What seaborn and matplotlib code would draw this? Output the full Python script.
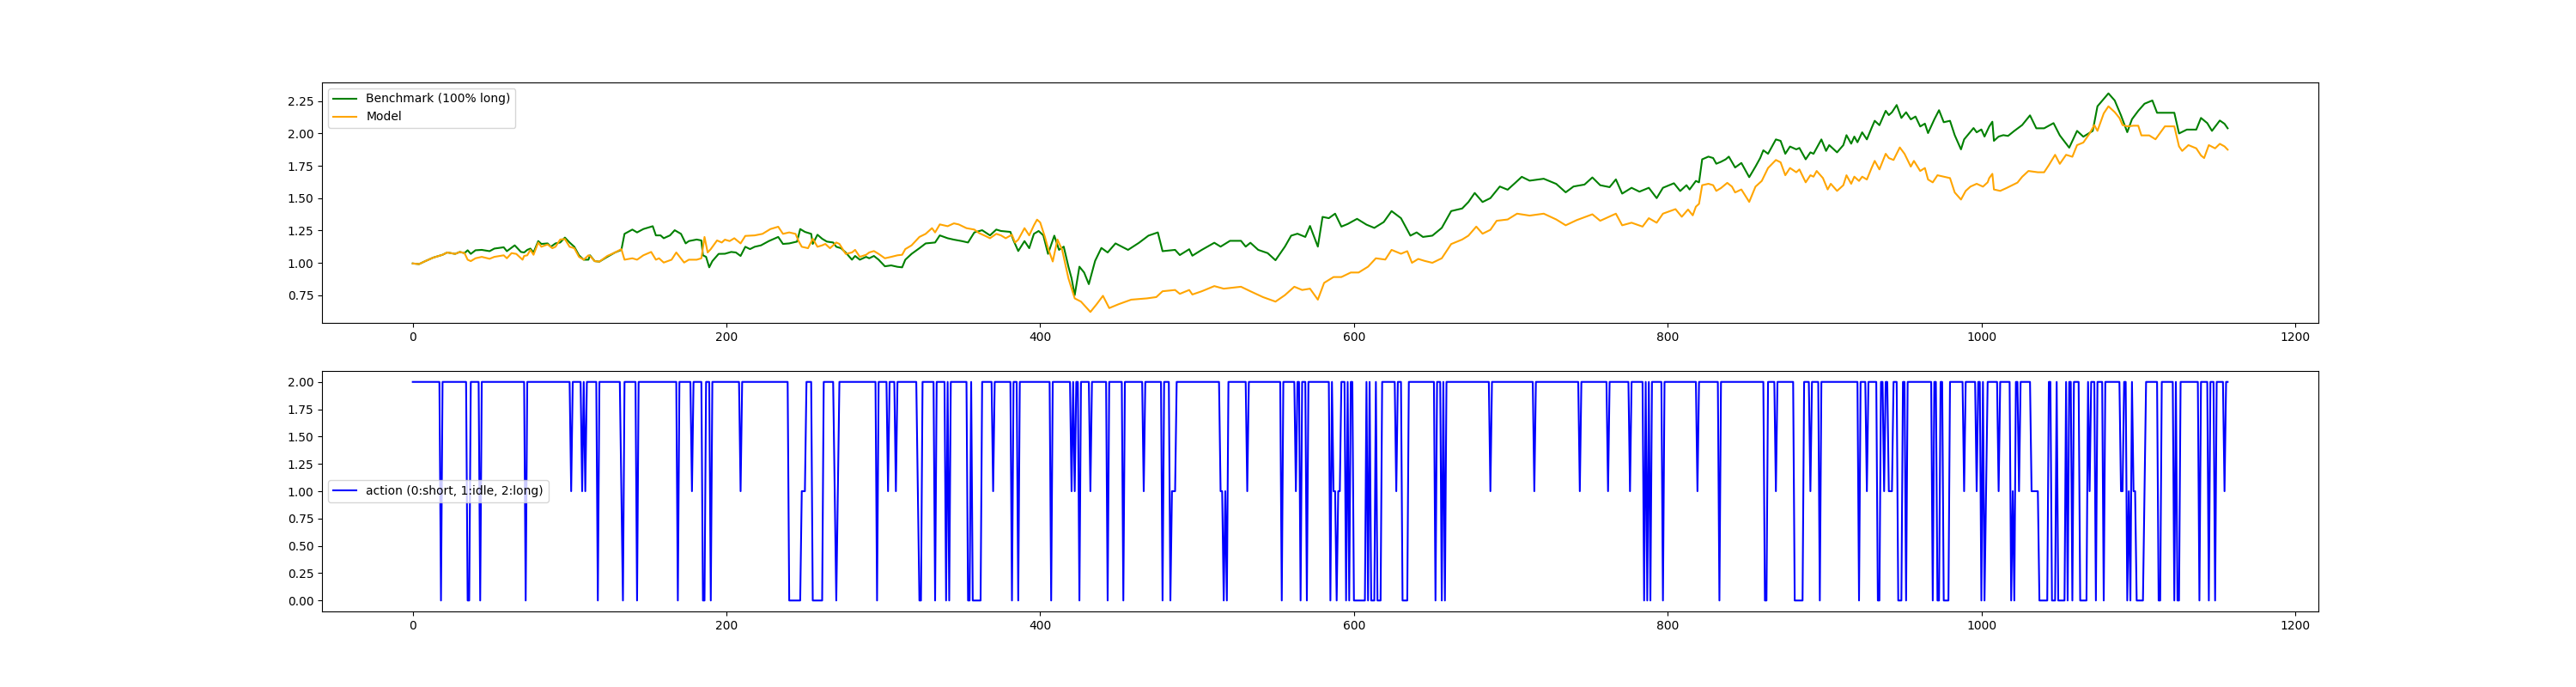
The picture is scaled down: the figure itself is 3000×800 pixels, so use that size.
import numpy as np
import pandas as pd
import matplotlib
matplotlib.use("Agg")
import matplotlib.pyplot as plt
import seaborn as sns

# ---------------- data ----------------
N_STEPS = 1158

bench_t = [0, 4, 8, 13, 19, 22, 27, 30, 33, 35,
           37, 40, 44, 49, 52, 58, 60, 65, 69, 71,
           73, 75, 77, 80, 82, 86, 88, 91, 94, 97,
           100, 103, 106, 109, 112, 113, 116, 119, 124, 129,
           133, 135, 140, 143, 147, 153, 155, 158, 160, 164,
           167, 171, 174, 176, 181, 184, 185, 187, 189, 191,
           195, 199, 203, 206, 209, 212, 215, 218, 222, 227,
           233, 236, 240, 245, 247, 250, 254, 255, 258, 261,
           264, 268, 270, 273, 276, 280, 282, 285, 289, 291,
           294, 297, 301, 305, 309, 312, 314, 318, 323, 327,
           333, 336, 341, 345, 350, 354, 358, 363, 368, 372,
           375, 381, 383, 386, 390, 393, 396, 399, 402, 405,
           409, 412, 415, 418, 420, 422, 425, 428, 431, 435,
           439, 443, 448, 456, 463, 469, 475, 478, 486, 489,
           495, 497, 503, 511, 515, 521, 528, 531, 534, 539,
           545, 550, 556, 560, 564, 569, 572, 577, 580, 584,
           588, 592, 596, 602, 608, 613, 619, 624, 630, 636,
           640, 644, 650, 656, 662, 669, 673, 677, 682, 687,
           693, 698, 703, 707, 712, 721, 729, 735, 740, 747,
           752, 757, 763, 767, 771, 777, 782, 788, 793, 797,
           804, 808,
           812, 814, 818, 820, 822, 826, 829, 831, 834, 837,
           839, 843, 847, 852, 856, 859, 861, 864, 869, 872,
           875, 878, 882, 884, 888, 891, 893, 895, 898, 901,
           903, 908, 912, 914, 917, 919, 921, 924, 927, 930,
           932, 935, 939, 941, 943, 946, 949, 952, 955, 958,
           961, 964, 966, 970, 973, 976, 980, 983, 987, 989,
           992, 995, 997, 1000, 1002, 1005, 1007, 1008, 1011, 1014,
           1017,
           1021, 1026, 1031, 1035, 1040, 1046, 1050, 1056, 1061, 1065,
           1071, 1074, 1081, 1085, 1089, 1093, 1096, 1100, 1104, 1109,
           1112, 1117, 1123, 1126, 1131, 1137, 1140, 1144, 1147, 1152,
           1155, 1157]
bench_v = [0.995, 0.99, 1.013, 1.04, 1.062, 1.08, 1.069, 1.084, 1.075, 1.097,
           1.069, 1.097, 1.10, 1.09, 1.11, 1.12, 1.09, 1.135, 1.084, 1.08,
           1.10, 1.11, 1.08, 1.168, 1.146, 1.15, 1.124, 1.15, 1.157, 1.195,
           1.157, 1.124, 1.058, 1.024, 1.024, 1.058, 1.013, 1.009, 1.046, 1.08,
           1.10, 1.224, 1.257, 1.235, 1.261, 1.283, 1.212, 1.212, 1.19, 1.212,
           1.252, 1.224, 1.15, 1.168, 1.18, 1.173, 1.058, 1.046, 0.965, 1.013,
           1.069, 1.07, 1.084, 1.08, 1.053, 1.124, 1.106, 1.124, 1.135, 1.168,
           1.20, 1.146, 1.15, 1.164, 1.261, 1.239, 1.224, 1.146, 1.217, 1.186,
           1.164, 1.157, 1.124, 1.113, 1.08, 1.024, 1.053, 1.024, 1.046, 1.035,
           1.053, 1.024, 0.973, 0.98, 0.969, 0.965, 1.024, 1.069, 1.113, 1.15,
           1.157, 1.212, 1.19, 1.179, 1.168, 1.157, 1.235, 1.252, 1.212, 1.257,
           1.246, 1.239, 1.173, 1.091, 1.168, 1.113, 1.224, 1.246, 1.212, 1.069,
           1.21, 1.10, 1.125, 0.97, 0.88, 0.75, 0.97, 0.925, 0.835, 1.015,
           1.115, 1.08, 1.15, 1.10, 1.155, 1.21, 1.235, 1.09, 1.10, 1.06,
           1.105, 1.055, 1.10, 1.155, 1.125, 1.17, 1.17, 1.125, 1.155, 1.10,
           1.075, 1.02, 1.125, 1.21, 1.225, 1.20, 1.285, 1.125, 1.355, 1.345,
           1.38, 1.28, 1.30, 1.34, 1.295, 1.27, 1.315, 1.40, 1.345, 1.21,
           1.235, 1.20, 1.21, 1.27, 1.40, 1.42, 1.47, 1.54, 1.47, 1.50,
           1.59, 1.565, 1.62, 1.665, 1.635, 1.65, 1.61, 1.545, 1.59, 1.605,
           1.66, 1.60, 1.585, 1.645, 1.535, 1.58, 1.55, 1.58, 1.50, 1.58,
           1.615, 1.555,
           1.60, 1.567, 1.633, 1.622, 1.80, 1.821, 1.81, 1.766, 1.781, 1.80,
           1.821, 1.737, 1.772, 1.662, 1.744, 1.81, 1.87, 1.843, 1.954, 1.943,
           1.843, 1.899, 1.877, 1.888, 1.80, 1.854, 1.843, 1.888, 1.954, 1.865,
           1.91, 1.854, 1.91, 1.987, 1.921, 1.976, 1.932, 2.009, 1.954, 2.042,
           2.098, 2.064, 2.175, 2.142, 2.164, 2.22, 2.12, 2.164, 2.109, 2.131,
           2.054, 2.076, 2.003, 2.109, 2.18, 2.087, 2.098, 1.987, 1.877, 1.954,
           1.998, 2.042, 2.009, 2.031, 1.976, 2.054, 2.091, 1.943, 1.976, 1.987,
           1.981,
           2.02, 2.065, 2.14, 2.04, 2.04, 2.08, 1.985, 1.89, 2.02, 1.975,
           2.02, 2.21, 2.31, 2.255, 2.14, 2.01, 2.11, 2.175, 2.23, 2.255,
           2.16, 2.16, 2.16, 2.00, 2.03, 2.03, 2.12, 2.08, 2.02, 2.10,
           2.075, 2.04]

model_t = [0, 4, 8, 13, 19, 22, 27, 30, 33, 35,
           37, 40, 44, 49, 52, 58, 60, 63, 66, 70,
           71, 73, 75, 77, 80, 82, 86, 89, 91, 94,
           97, 100, 103, 106, 109, 112, 113, 116, 119, 124,
           129, 133, 135, 140, 143, 147, 152, 155, 157, 160,
           165, 168, 173, 176, 181, 184, 186, 188, 190, 194,
           197, 199, 202, 205, 209, 212, 218, 223, 228, 233,
           236, 240, 244, 246, 248, 252, 255, 258, 261, 263,
           266, 270, 272, 276, 280, 282, 285, 289, 291, 294,
           297, 301, 305, 309, 312, 314, 318, 323, 327, 331,
           333, 336, 341, 345, 348, 353, 358, 361, 365, 368,
           372, 375, 378, 382, 384, 386, 390, 393, 396, 398,
           400, 403, 405,
           408, 411, 414, 416, 418, 422, 426, 432, 436, 440,
           444, 450, 458, 468, 474, 478, 486, 489, 495, 497,
           503, 511, 517, 528, 534, 542, 550, 556, 562, 567,
           572, 577, 581, 587, 592, 598, 603, 609, 614, 620,
           624, 630, 634, 637, 641, 645, 650, 656, 662, 669,
           673, 678, 682, 687, 691, 698, 704, 712, 721, 729,
           735, 742, 752, 757, 767, 771, 777, 784, 788, 793,
           797, 805,
           809, 813, 816, 818, 820, 822, 826, 829, 831, 834,
           838, 841, 843, 847, 852, 856, 860, 864, 869, 872,
           875, 878, 882, 884, 888, 891, 893, 895, 899, 902,
           904, 908, 912, 914, 917, 919, 922, 924, 927, 930,
           932, 935, 939, 941, 944, 948, 951, 955, 957, 961,
           964, 966, 969, 972, 976, 980, 983, 987, 990, 993,
           997, 1001, 1004, 1005, 1007, 1008, 1012, 1016,
           1023, 1026, 1030, 1036, 1040, 1043, 1047, 1050, 1054, 1058,
           1061, 1065, 1069, 1072, 1074, 1078, 1081, 1085, 1088, 1090,
           1093, 1097, 1100, 1102, 1107, 1111, 1117, 1123, 1126, 1128,
           1132, 1137, 1140, 1142, 1145, 1149, 1152, 1155, 1157]
model_v = [0.995, 0.99, 1.013, 1.04, 1.062, 1.08, 1.069, 1.084, 1.075, 1.024,
           1.013, 1.035, 1.046, 1.031, 1.046, 1.058, 1.035, 1.075, 1.069, 1.024,
           1.053, 1.058, 1.10, 1.062, 1.157, 1.124, 1.142, 1.113, 1.124, 1.18,
           1.184, 1.124, 1.113, 1.046, 1.024, 1.058, 1.053, 1.013, 1.009, 1.053,
           1.08, 1.106, 1.024, 1.035, 1.024, 1.058, 1.084, 1.024, 1.035, 1.002,
           1.024, 1.08, 1.002, 1.024, 1.024, 1.035, 1.20, 1.08, 1.106, 1.173,
           1.157, 1.179, 1.168, 1.19, 1.15, 1.208, 1.212, 1.224, 1.261, 1.279,
           1.224, 1.235, 1.224, 1.168, 1.124, 1.113, 1.186, 1.124, 1.135, 1.146,
           1.113, 1.157, 1.146, 1.069, 1.08, 1.10, 1.046, 1.062, 1.08, 1.091,
           1.069, 1.035, 1.046, 1.058, 1.062, 1.106, 1.135, 1.20, 1.224, 1.268,
           1.235, 1.297, 1.283, 1.305, 1.297, 1.268, 1.257, 1.23, 1.208, 1.19,
           1.224, 1.212, 1.19, 1.217, 1.157, 1.179, 1.268, 1.212, 1.29, 1.334,
           1.312, 1.20, 1.113,
           1.01, 1.18, 1.10, 0.99, 0.88, 0.725, 0.70, 0.62, 0.68, 0.745,
           0.65, 0.68, 0.715, 0.725, 0.735, 0.78, 0.79, 0.76, 0.79, 0.755,
           0.78, 0.82, 0.80, 0.815, 0.78, 0.735, 0.70, 0.75, 0.815, 0.79,
           0.80, 0.715, 0.845, 0.89, 0.89, 0.925, 0.925, 0.97, 1.035, 1.025,
           1.10, 1.07, 1.09, 1.00, 1.03, 1.015, 1.00, 1.035, 1.145, 1.18,
           1.21, 1.28, 1.225, 1.255, 1.325, 1.335, 1.38, 1.365, 1.38, 1.335,
           1.29, 1.33, 1.375, 1.325, 1.38, 1.29, 1.31, 1.28, 1.345, 1.31,
           1.38, 1.415,
           1.356, 1.412, 1.367, 1.434, 1.456, 1.60, 1.611, 1.60, 1.556, 1.578,
           1.618, 1.589, 1.544, 1.567, 1.471, 1.589, 1.633, 1.733, 1.795, 1.777,
           1.677, 1.733, 1.70, 1.722, 1.622, 1.677, 1.666, 1.71, 1.655, 1.567,
           1.611, 1.556, 1.60, 1.677, 1.611, 1.666, 1.633, 1.666, 1.644, 1.733,
           1.788, 1.722, 1.843, 1.81, 1.795, 1.892, 1.843, 1.744, 1.788, 1.71,
           1.733, 1.644, 1.622, 1.677, 1.666, 1.655, 1.544, 1.489, 1.556, 1.589,
           1.611, 1.589, 1.622, 1.655, 1.688, 1.567, 1.556, 1.578,
           1.62, 1.665, 1.71, 1.70, 1.70, 1.755, 1.835, 1.765, 1.835, 1.82,
           1.91, 1.93, 2.00, 2.065, 2.02, 2.155, 2.21, 2.165, 2.12, 2.065,
           2.055, 2.06, 2.06, 1.985, 1.985, 1.955, 2.055, 2.055, 1.90, 1.865,
           1.91, 1.885, 1.83, 1.81, 1.91, 1.885, 1.92, 1.90, 1.875]

# action: step index where a new level starts, and that level (0 short, 1 idle, 2 long)
action_start = [0, 18, 19, 35, 37, 43, 44, 72, 73, 101, 102, 108, 109, 110, 111, 118, 119, 133, 134, 135,
                143, 144, 169, 170, 178, 179, 185, 187, 190, 191, 209, 210, 240, 248, 251, 255, 262, 269, 270, 271,
                272, 296, 297, 303, 304, 308, 309, 322, 323, 325, 333, 334, 340, 341, 342, 343, 354, 356, 357, 363,
                370, 371, 382, 383, 386, 387, 407, 408, 420, 421, 422, 423, 425, 426, 432, 433, 443, 444, 453, 454,
                466, 467, 478, 479, 483, 484, 487, 515, 517, 518, 519, 520, 532, 533, 554, 555, 563, 564, 566, 567,
                570, 571, 585, 586, 587, 589, 590, 592, 595, 596, 597, 598, 600, 608, 609, 610, 611, 614, 615, 618,
                627, 628, 631, 635, 652, 653, 656, 657, 658, 659, 687, 688, 715, 716, 744, 745, 762, 763, 776, 777,
                785, 786, 787, 788, 789, 790, 797, 798, 819, 820, 833, 834, 862, 864, 869, 870, 881, 887, 891, 892,
                897, 898, 922, 923, 927, 928, 934, 936, 938, 939, 941, 944, 947, 950, 952, 953, 969, 970, 972, 974,
                976, 980, 989, 990, 997, 998, 1000, 1001, 1002, 1003, 1004, 1011, 1012, 1019, 1020, 1021, 1022, 1024, 1025, 1032,
                1037, 1043, 1045, 1048, 1049, 1054, 1055, 1056, 1058, 1059, 1063, 1068, 1069, 1070, 1073, 1074, 1078, 1079, 1089, 1091,
                1093, 1094, 1095, 1096, 1097, 1099, 1104, 1105, 1113, 1115, 1123, 1124, 1125, 1127, 1139, 1140, 1145, 1146, 1149, 1150,
                1155, 1156]
action_value = [2, 0, 2, 0, 2, 0, 2, 0, 2, 1, 2, 1, 2, 1, 2, 0, 2, 1, 0, 2,
                0, 2, 0, 2, 1, 2, 0, 2, 0, 2, 1, 2, 0, 1, 2, 0, 2, 1, 0, 1,
                2, 0, 2, 1, 2, 1, 2, 1, 0, 2, 0, 2, 0, 2, 0, 2, 0, 2, 0, 2,
                1, 2, 0, 2, 0, 2, 0, 2, 1, 2, 1, 2, 0, 2, 1, 2, 0, 2, 0, 2,
                1, 2, 0, 2, 0, 1, 2, 1, 0, 1, 0, 2, 1, 2, 0, 2, 1, 2, 0, 2,
                0, 2, 0, 2, 1, 0, 1, 2, 0, 2, 0, 2, 0, 2, 0, 2, 0, 2, 0, 2,
                1, 2, 0, 2, 0, 2, 0, 2, 0, 2, 1, 2, 1, 2, 1, 2, 1, 2, 1, 2,
                0, 2, 0, 2, 0, 2, 0, 2, 1, 2, 0, 2, 0, 2, 1, 2, 0, 2, 1, 2,
                0, 2, 0, 2, 1, 2, 0, 2, 1, 2, 1, 2, 0, 2, 0, 2, 0, 2, 0, 2,
                0, 2, 1, 2, 1, 2, 0, 2, 0, 1, 2, 1, 2, 0, 1, 0, 2, 1, 2, 1,
                0, 2, 0, 2, 0, 2, 0, 2, 0, 2, 0, 2, 1, 2, 0, 2, 0, 2, 1, 2,
                0, 1, 0, 2, 1, 0, 1, 2, 0, 2, 0, 2, 0, 2, 0, 2, 0, 2, 0, 2,
                1, 2]

# ---------------- build frames ----------------
bench_df = pd.DataFrame({"step": bench_t, "value": bench_v})
model_df = pd.DataFrame({"step": model_t, "value": model_v})
run_len = np.diff(np.append(action_start, N_STEPS))
action_df = pd.DataFrame({"step": np.arange(N_STEPS),
                          "action": np.repeat(action_value, run_len)})

# ---------------- plot ----------------
fig, (ax1, ax2) = plt.subplots(2, 1, figsize=(30, 8), dpi=100)

sns.lineplot(data=bench_df, x="step", y="value", ax=ax1, color="green",
             label="Benchmark (100% long)", linewidth=1.5)
sns.lineplot(data=model_df, x="step", y="value", ax=ax1, color="orange",
             label="Model", linewidth=1.5)
ax1.set_xlabel("")
ax1.set_ylabel("")
ax1.legend(loc="upper left")

sns.lineplot(data=action_df, x="step", y="action", ax=ax2, color="blue",
             label="action (0:short, 1:idle, 2:long)", linewidth=1.5)
ax2.set_xlabel("")
ax2.set_ylabel("")
ax2.legend(loc="center left")

for ax in (ax1, ax2):
    ax.set_xlim(-57.85, 1214.85)
    ax.set_xticks([0, 200, 400, 600, 800, 1000, 1200])

fig.savefig("out.png", dpi=100)
